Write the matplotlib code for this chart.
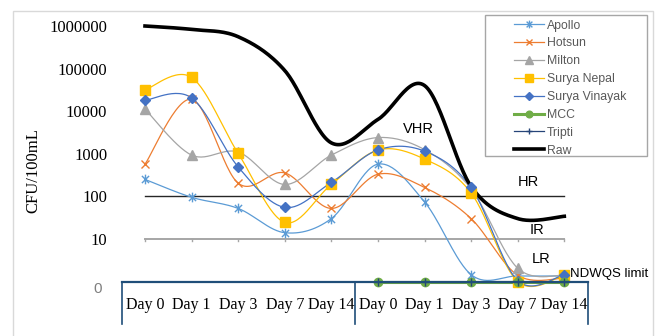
import numpy as np
import matplotlib
matplotlib.use("Agg")
import matplotlib.pyplot as plt
from matplotlib.path import Path
from matplotlib.lines import Line2D
from matplotlib.patches import Rectangle
import matplotlib.transforms as mtransforms

# category labels (two groups of sampling days)
days = ["Day 0", "Day 1", "Day 3", "Day 7", "Day 14",
        "Day 0", "Day 1", "Day 3", "Day 7", "Day 14"]

# CFU/100mL (nan = no point)
apollo = [250, 95, 52, 14, 30, 570, 74, 1.45, 1.35, 1.35]
hotsun = [570, 19000, 204, 355, 52, 330, 162, 30, 1.4, 1.2]
milton = [11200, 930, 1100, 190, 930, 2400, 1250, 150, 2.05, 1.4]
surya_nepal = [31500, 62000, 1020, 24.5, 190, 1220, 750, 120, 1.0, 1.4]
surya_vinayak = [18000, 20500, 490, 55, 212, 1230, 1150, 162, 1.05, 1.45]
mcc = [np.nan] * 5 + [1, 1, 1, 1, 1]
tripti = [np.nan] * 5 + [1, 1, 1, 1, 1]
raw = [1000000, 830000, 560000, 90000, 1800, 6400, 40000, 170, 30, 34]

hr_limit = 100
ir_limit = 10

names = ["Apollo", "Hotsun", "Milton", "Surya Nepal", "Surya Vinayak", "MCC", "Tripti", "Raw"]
values = [apollo, hotsun, milton, surya_nepal, surya_vinayak, mcc, tripti, raw]

# excel-like asterisk marker: x plus vertical bar
star = Path([(-1, -1), (1, 1), (-1, 1), (1, -1), (0, -1.35), (0, 1.35)],
            [Path.MOVETO, Path.LINETO, Path.MOVETO, Path.LINETO, Path.MOVETO, Path.LINETO])

styles = {
    "Apollo": dict(color="#5B9BD5", marker=star, ms=7, lw=0.9, mfc="none"),
    "Hotsun": dict(color="#ED7D31", marker="x", ms=6, lw=0.9),
    "Milton": dict(color="#A5A5A5", marker="^", ms=7, lw=0.9),
    "Surya Nepal": dict(color="#FFC000", marker="s", ms=7, lw=0.9),
    "Surya Vinayak": dict(color="#4472C4", marker="D", ms=5.5, lw=0.9),
    "MCC": dict(color="#70AD47", marker="o", ms=6, lw=2.2),
    "Tripti": dict(color="#264478", marker="+", ms=6, lw=0.9),
    "Raw": dict(color="black", marker=None, ms=0, lw=2.6),
}


def smooth(x, y, n=30):
    # excel style smoothed line: bezier through points, done in log space
    x = np.asarray(x, float)
    ly = np.log10(np.asarray(y, float))
    ok = ~np.isnan(ly)
    x, ly = x[ok], ly[ok]
    pts = np.column_stack([x, ly])
    out = [pts[0]]
    for i in range(len(pts) - 1):
        p0 = pts[max(i - 1, 0)]
        p1 = pts[i]
        p2 = pts[i + 1]
        p3 = pts[min(i + 2, len(pts) - 1)]
        c1 = p1 + (p2 - p0) / 6
        c2 = p2 - (p3 - p1) / 6
        t = np.linspace(0, 1, n)[1:, None]
        seg = ((1 - t) ** 3 * p1 + 3 * (1 - t) ** 2 * t * c1
               + 3 * (1 - t) * t ** 2 * c2 + t ** 3 * p2)
        out.extend(seg)
    out = np.array(out)
    return out[:, 0], 10 ** out[:, 1]


plt.rcParams["font.family"] = "Liberation Serif"

fig = plt.figure(figsize=(6.63, 3.36), dpi=100)
ax = fig.add_axes([121.7 / 663, 54.5 / 336, 465.9 / 663, 255.5 / 336])
ax.set_yscale("log")
ax.set_ylim(1, 1e6)
ax.set_xlim(-0.5, 9.5)

x = np.arange(len(days))

# limit lines
ax.plot([0, 9], [hr_limit, hr_limit], color="#262626", lw=1.0, zorder=1)
ax.plot([0, 9], [ir_limit, ir_limit], color="#A6A6A6", lw=1.4, zorder=1)
for xi in x:
    ax.plot([xi, xi], [ir_limit, ir_limit * 0.89], color="#A6A6A6", lw=1.0, zorder=1)

for name, v in zip(names, values):
    st = styles[name]
    sx, sy = smooth(x, v)
    ax.plot(sx, sy, color=st["color"], lw=st["lw"], zorder=3 if name != "Raw" else 4,
            clip_on=False)
    if st["marker"] is not None:
        ax.plot(x, v, ls="none", marker=st["marker"], ms=st["ms"], color=st["color"],
                mec=st["color"], mew=1.0, zorder=5, clip_on=False)

# axes cosmetics
for s in ax.spines.values():
    s.set_visible(False)
ax.set_xticks([])
ax.set_yticks([10, 100, 1000, 10000, 100000, 1000000])
ax.set_yticklabels(["10", "100", "1000", "10000", "100000", "1000000"], fontsize=12)
ax.yaxis.set_minor_locator(matplotlib.ticker.NullLocator())
ax.tick_params(axis="y", length=0, pad=10.5)
fig.text(98 / 663, 1 - 289 / 336, "0", ha="center", va="center", fontsize=11,
         color="#7F7F7F", family="Liberation Sans")

# multi-level category box
box = "#1F4E79"
trans = mtransforms.blended_transform_factory(ax.transData, fig.transFigure)
top_y = 54.5 / 336
low_y = (336 - 324) / 336
ax.plot([-0.5, 9.5], [top_y, top_y], transform=trans, color=box, lw=1.6, clip_on=False, zorder=6)
for xv in [-0.5, 4.5, 9.5]:
    ax.plot([xv, xv], [top_y, low_y], transform=trans, color=box, lw=1.2, clip_on=False)
for xi, d in zip(x, days):
    ax.text(xi, (336 - 305) / 336, d, transform=trans, ha="center", va="center", fontsize=11.5)

fig.text(33 / 663, 1 - 171 / 336, "CFU/100mL", rotation=90, ha="center", va="center", fontsize=12)

# zone labels
sans = "Liberation Sans"
fig.text(418 / 663, 1 - 129 / 336, "VHR", ha="center", va="center", fontsize=10.5, family=sans)
fig.text(528 / 663, 1 - 182 / 336, "HR", ha="center", va="center", fontsize=10.5, family=sans)
fig.text(537 / 663, 1 - 230 / 336, "IR", ha="center", va="center", fontsize=10.5, family=sans)
fig.text(541 / 663, 1 - 259 / 336, "LR", ha="center", va="center", fontsize=10.5, family=sans)
fig.text(570 / 663, 1 - 274 / 336, "NDWQS limit", ha="left", va="center", fontsize=9.5, family=sans)

# legend
handles = []
for name in names:
    st = styles[name]
    handles.append(Line2D([], [], color=st["color"], lw=st["lw"], marker=st["marker"],
                          ms=st["ms"] * 0.8, mec=st["color"], mew=1.0))
leg = fig.legend(handles, names, loc="upper left", bbox_to_anchor=(505 / 663, 1 - 11 / 336),
                 frameon=False, prop={"family": sans, "size": 8.8}, handlelength=2.5,
                 handletextpad=0.25, labelspacing=0.48, borderpad=0.2)
for t in leg.get_texts():
    t.set_color("#595959")
fig.patches.append(Rectangle((485 / 663, 1 - 156 / 336), 162 / 663, 141 / 336,
                             transform=fig.transFigure, fill=False, ec="#A6A6A6", lw=1.0))
# chart area border
fig.patches.append(Rectangle((13 / 663, -0.05), 640 / 663, 1.05 - 11 / 336,
                             transform=fig.transFigure, fill=False, ec="#D9D9D9", lw=1.0))

fig.savefig("out.png", dpi=100)
